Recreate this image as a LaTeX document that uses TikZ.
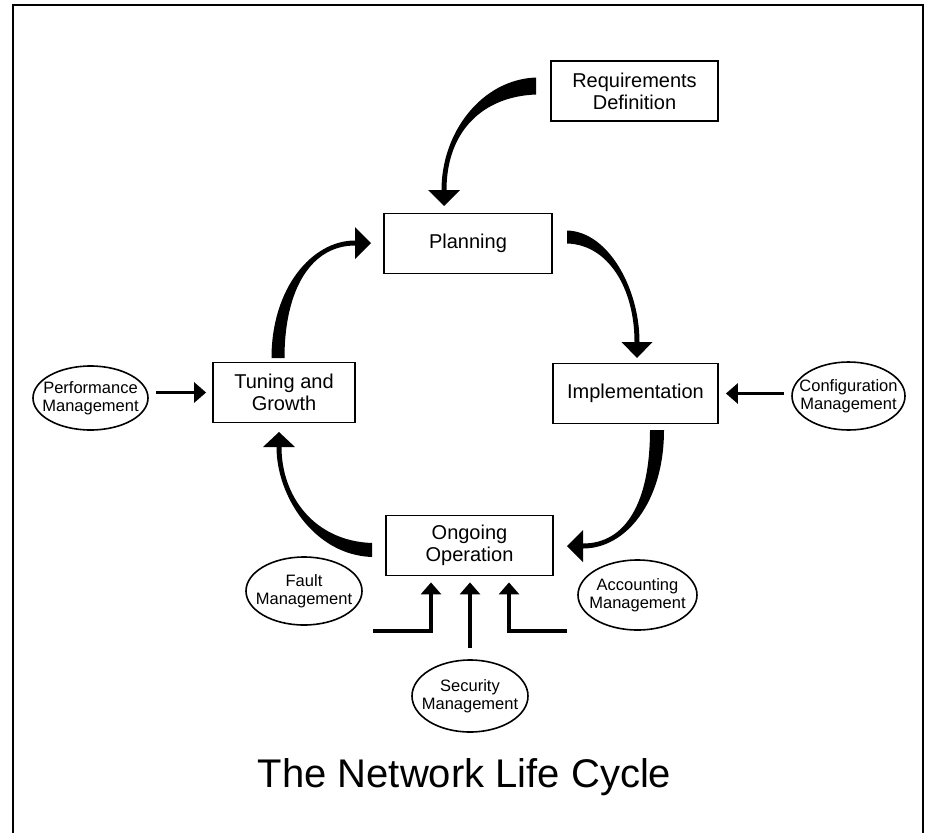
\documentclass[tikz,border=0pt]{standalone}
\usepackage{fontspec}
\setmainfont{Liberation Sans}
\usetikzlibrary{shapes.geometric,arrows.meta,calc}

% Tapered curved arrow: a filled band between two Bezier curves plus a triangular head.
% #1 start, #2 first control, #3 second control, #4 end of shaft,
% #5 half-width offset at the start, #6 half-width offset at the end,
% #7 half-width offset of the head base, #8 tip
\newcommand\sweeparrow[8]{%
  \fill ($#1+#5$) .. controls ($#2+#5$) and ($#3+#6$) .. ($#4+#6$)
     -- ($#4-#6$) .. controls ($#3-#6$) and ($#2-#5$) .. ($#1-#5$) -- cycle;
  \fill ($#4+#7$) -- #8 -- ($#4-#7$) -- cycle;
}

\begin{document}
\begin{tikzpicture}[x=1pt,y=-1pt,
  stagebox/.style={draw, line width=1.8pt, minimum height=60pt, inner sep=0pt,
    align=center, font=\fontsize{20}{22}\selectfont},
  mgmtnode/.style={draw, ellipse, line width=1.6pt, minimum width=116pt, minimum height=68pt,
    inner xsep=-16pt, inner ysep=-2pt, align=center, font=\fontsize{16.5}{18}\selectfont},
  mgmtarrow/.style={line width=3.5pt, -{Triangle[length=12pt,width=20pt]}}]

\useasboundingbox (0,0) rectangle (926,833);

% frame
\draw[line width=2pt] (13,833) -- (13,5) -- (923,5) -- (923,833);

% life-cycle stages
\node[stagebox, minimum width=167pt] (req)  at (634.5,91)   {Requirements\\Definition};
\node[stagebox, minimum width=168pt] (plan) at (468,243.5)  {Planning};
\node[stagebox, minimum width=142pt] (tune) at (284,392.5)  {Tuning and\\Growth};
\node[stagebox, minimum width=165pt] (impl) at (635.5,393.5){Implementation};
\node[stagebox, minimum width=167pt] (ongo) at (469.5,545.5){Ongoing\\Operation};

% management functions
\node[mgmtnode, minimum width=115pt, minimum height=64pt] (perf) at (90.5,398) {Performance\\Management};
\node[mgmtnode, minimum width=113pt] (conf) at (848.5,396) {Configuration\\Management};
\node[mgmtnode] (fault) at (304,591) {Fault\\Management};
\node[mgmtnode, minimum height=72pt] (secu) at (470,696) {Security\\Management};
\node[mgmtnode, minimum width=119pt, minimum height=70pt] (acct) at (637.5,595) {Accounting\\Management};

% cycle arrows
\coordinate (rp0) at (536,86);  \coordinate (rp1) at (444,190); \coordinate (rpt) at (444,206);
\sweeparrow{(rp0)}{(482,88)}{(444,132)}{(rp1)}{(0,-8.5)}{(-2.5,0)}{(16,0)}{(rpt)}

\coordinate (pi0) at (567,237); \coordinate (pi1) at (637,342); \coordinate (pit) at (637,358);
\sweeparrow{(pi0)}{(608,238)}{(637,288)}{(pi1)}{(0,-6.5)}{(2.5,0)}{(15.5,0)}{(pit)}

\coordinate (io0) at (657,430); \coordinate (io1) at (583,546); \coordinate (iot) at (567,546);
\sweeparrow{(io0)}{(657,502)}{(626,546)}{(io1)}{(7,0)}{(0,2.5)}{(0,16)}{(iot)}

\coordinate (ot0) at (372,550); \coordinate (ot1) at (279,447); \coordinate (ott) at (279,432);
\sweeparrow{(ot0)}{(314,548)}{(279,496)}{(ot1)}{(0,7)}{(-2.5,0)}{(16,0)}{(ott)}

\coordinate (tp0) at (278,358); \coordinate (tp1) at (355,243); \coordinate (tpt) at (371,243);
\sweeparrow{(tp0)}{(278,288)}{(312,243)}{(tp1)}{(-6.5,0)}{(0,-2.5)}{(0,16)}{(tpt)}

% management inputs
\draw[mgmtarrow, shorten <=7pt, shorten >=6pt] (perf.east |- tune.west) -- (tune.west);
\draw[mgmtarrow, shorten <=7pt, shorten >=7pt] (conf.west |- impl.east) -- (impl.east);

\coordinate (fs) at (373,631); \coordinate (fk) at (431,631);
\draw[mgmtarrow, shorten >=6pt] (fs) -- (fk) -- (fk |- ongo.south);

\coordinate (ss) at (470,648);
\draw[mgmtarrow, shorten >=6pt] (ss) -- (ss |- ongo.south);

\coordinate (as) at (567,631); \coordinate (ak) at (509,631);
\draw[mgmtarrow, shorten >=6pt] (as) -- (ak) -- (ak |- ongo.south);

% title
\node[font=\fontsize{40}{44}\selectfont, anchor=base] (title) at (464.5,787) {The Network Life Cycle};

\end{tikzpicture}
\end{document}
